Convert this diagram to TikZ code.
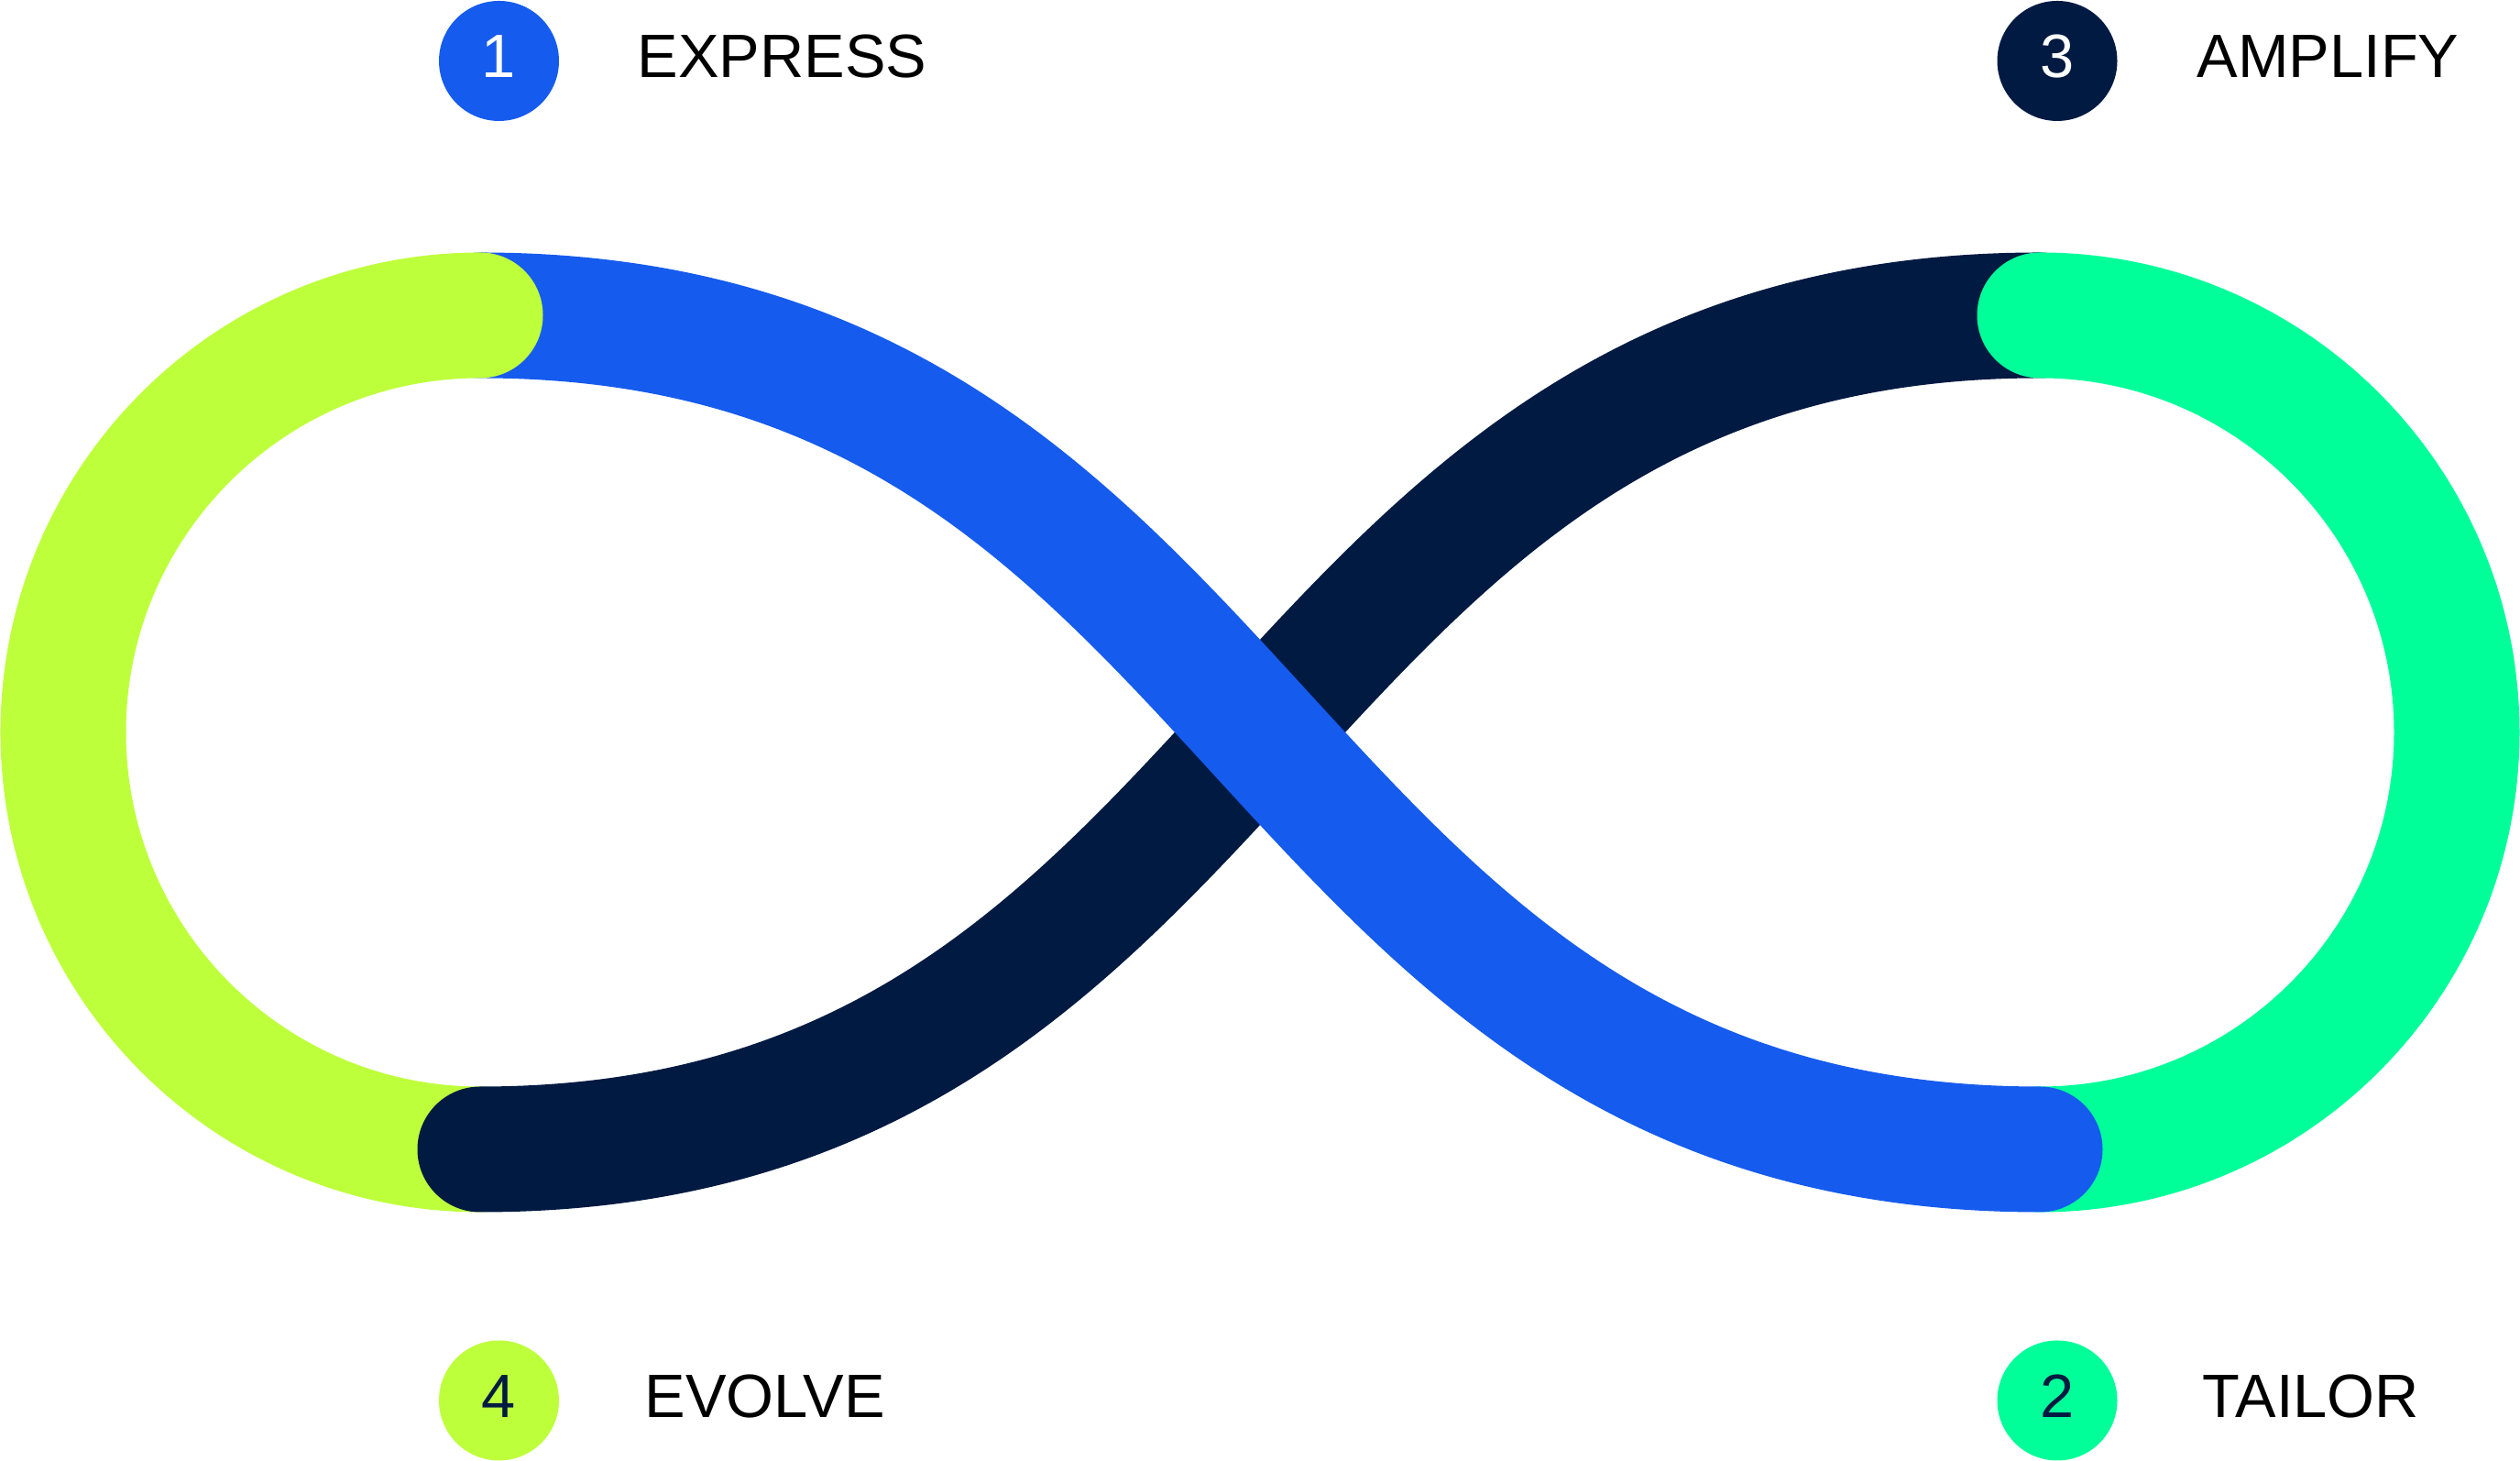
\documentclass[tikz,border=0pt]{standalone}
\usepackage{fontspec}
\usepackage{tikz}
\usetikzlibrary{positioning}
\setmainfont{Liberation Sans}
\definecolor{expressblue}{HTML}{155BEE}
\definecolor{tailorgreen}{HTML}{00FF99}
\definecolor{amplifynavy}{HTML}{001A42}
\definecolor{evolvelime}{HTML}{BEFF3C}

\begin{document}
\begin{tikzpicture}[line cap=round,font=\fontsize{19}{23}\selectfont]
	\tikzstyle{band}=[line width=1.37cm]
	\tikzstyle{badge}=[circle,minimum size=1.31cm,inner sep=0pt,text height=0.48cm,text depth=0.11cm]
	\tikzstyle{stage}=[anchor=base west,inner sep=0pt,text=black]
	\useasboundingbox (0,0) rectangle (27.5,15.94);
	
	% ends of the loop
	\coordinate (TL) at (5.24,12.5);
	\coordinate (BL) at (5.24,3.4);
	\coordinate (ML) at (0.69,7.95);
	\coordinate (TR) at (22.26,12.5);
	\coordinate (BR) at (22.26,3.4);
	
	\draw[band,evolvelime] (BL) arc[start angle=-90,end angle=-180,radius=4.55];
	\draw[band,amplifynavy] (BL) .. controls +(8.68,0) and +(-8.68,0) .. (TR);
	\draw[band,tailorgreen] (TR) arc[start angle=90,end angle=-90,radius=4.55];
	\draw[band,expressblue] (TL) .. controls +(8.68,0) and +(-8.68,0) .. (BR);
	\draw[band,evolvelime] (ML) arc[start angle=180,end angle=90,radius=4.55];
	
	\node[badge,fill=expressblue,text=white] (S1) at (5.445,15.275) {1};
	\node[badge,fill=amplifynavy,text=white] (S3) at (22.45,15.275) {3};
	\node[badge,fill=evolvelime,text=amplifynavy] (S4) at (5.445,0.66) {4};
	\node[badge,fill=tailorgreen,text=amplifynavy] (S2) at (22.45,0.66) {2};
	
	\node[stage] (express) at (6.95,15.09) {EXPRESS};
	\node[stage] (amplify) at (23.97,15.09) {AMPLIFY};
	\node[stage] (evolve) at (7.03,0.47) {EVOLVE};
	\node[stage] (tailor) at (24.03,0.47) {TAILOR};
\end{tikzpicture}
\end{document}
